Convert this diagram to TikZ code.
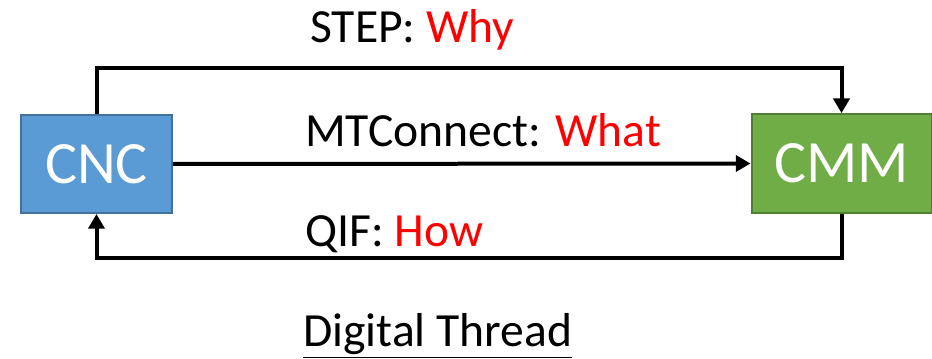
\documentclass[tikz,border=0pt]{standalone}
\usepackage{fontspec}
\setmainfont{Carlito}
\usepackage{tikz}
\usetikzlibrary{positioning, arrows.meta}

\definecolor{cncblue}{HTML}{5B9BD5}
\definecolor{cncedge}{HTML}{41719C}
\definecolor{cmmgreen}{HTML}{70AD47}
\definecolor{cmmedge}{HTML}{507E32}

\tikzset{
  machine/.style={draw, line width=1.5pt, inner sep=0pt, text=white,
    font=\fontsize{45}{50}\selectfont},
  flow/.style={line width=3pt, -{Triangle[width=12pt,length=11pt]}},
  label/.style={anchor=base west, inner sep=0pt,
    font=\fontsize{35.7}{40}\selectfont},
}

\begin{document}
\begin{tikzpicture}[x=0.75pt, y=-0.75pt]
      \useasboundingbox (0,0) rectangle (932,359);%
      % Machines
      % -- CNC
      \node [machine, fill=cncblue, draw=cncedge, minimum width=113pt,
      minimum height=73.5pt] (CNC) at (96.5,164) {CNC};%
      % -- CMM
      \node [machine, fill=cmmgreen, draw=cmmedge, minimum width=135pt,
      minimum height=74pt] (CMM) at (841.5,163.5) {CMM};%

      % Standards
      \node [label] (Step) at (310,43) {STEP: \textcolor{red}{Why}};%
      \node [label] (Mtc) at (305,147) {MTConnect: \textcolor{red}{What}};%
      \node [label] (Qif) at (305,247) {QIF: \textcolor{red}{How}};%

      % Title
      \node [label] (Title) at (303,347)
      {\underline{Digital Thread}};%

      % arrows
      \coordinate (top) at (96.5,68);%
      \coordinate (bottom) at (841.5,258);%
      \draw [flow] (CNC.north) -- (top) -| (CMM.north);%
      \draw [flow] (CNC.east) -- (CMM.west);%
      \draw [flow] (CMM.south) -- (bottom) -| (CNC.south);%
    \end{tikzpicture}
\end{document}
